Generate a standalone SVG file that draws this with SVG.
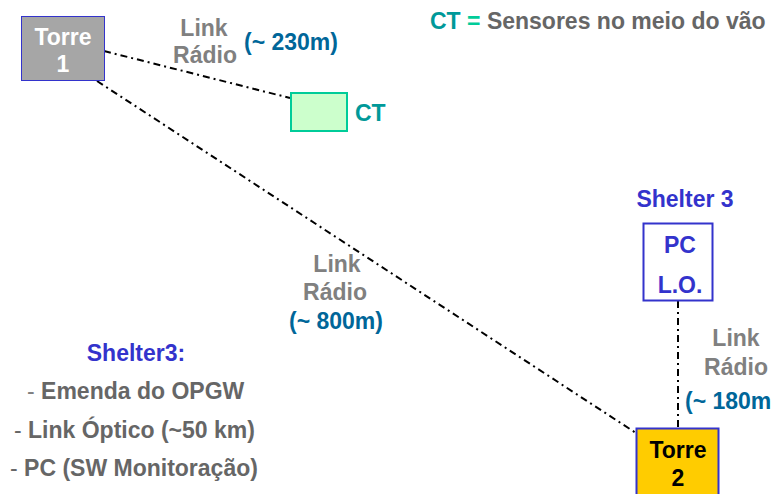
<svg xmlns="http://www.w3.org/2000/svg" width="771" height="494" viewBox="0 0 771 494">
<style>
text{font-family:"Liberation Sans",Arial,sans-serif;font-weight:bold;font-size:23px}
.c{text-anchor:middle}
.gray{fill:#808080}
.dk{fill:#666666}
.blue{fill:#006699}
.ind{fill:#3333CC}
.teal{fill:#009999}
.conn{stroke:#000;stroke-width:2;fill:none;stroke-dasharray:7 4 2 4}
</style>
<rect width="771" height="494" fill="#fff"/>
<g id="connectors">
<line class="conn" x1="104" y1="51" x2="290" y2="98"/>
<line class="conn" x1="97" y1="81" x2="636" y2="433"/>
<line class="conn" x1="678" y1="301" x2="678" y2="428"/>
</g>
<g id="torre1">
<rect x="21.5" y="16.5" width="83" height="64" fill="#A6A6A6" stroke="#3333CC" stroke-width="1"/>
<text class="c" x="63" y="45" fill="#fff">Torre</text>
<text class="c" x="63" y="72" fill="#fff">1</text>
</g>
<g id="ct">
<rect x="291" y="93" width="56" height="38" fill="#CCFFCC" stroke="#00CC99" stroke-width="2"/>
<text x="355" y="121" class="teal">CT</text>
</g>
<g id="shelter3">
<text class="c ind" x="685" y="207">Shelter 3</text>
<rect x="643.5" y="223.5" width="69" height="77" fill="#fff" stroke="#3333CC" stroke-width="2"/>
<text class="c ind" x="680" y="253">PC</text>
<text class="c ind" x="680" y="293">L.O.</text>
</g>
<g id="torre2">
<rect x="636.5" y="428.5" width="82" height="70" fill="#FFCC00" stroke="#3333CC" stroke-width="2"/>
<text class="c" x="678" y="458" fill="#000">Torre</text>
<text class="c" x="678" y="486" fill="#000">2</text>
</g>
<g id="labels">
<text class="c gray" x="204" y="36">Link</text>
<text class="c gray" x="205" y="63">Rádio</text>
<text class="blue" x="244" y="50">(~ 230m)</text>
<text x="430" y="29"><tspan class="teal">CT</tspan><tspan fill="#00CC99"> = </tspan><tspan class="dk">Sensores no meio do vão</tspan></text>
<text class="c gray" x="337" y="272">Link</text>
<text class="c gray" x="335" y="300">Rádio</text>
<text class="c blue" x="336" y="329">(~ 800m)</text>
<text class="c gray" x="736" y="346">Link</text>
<text class="c gray" x="736" y="375">Rádio</text>
<text class="blue" x="685" y="409">(~ 180m</text>
<text class="c ind" x="136" y="361">Shelter3:</text>
<text x="27" y="399" class="dk"><tspan font-weight="normal" fill="#808080">- </tspan>Emenda do OPGW</text>
<text x="14" y="438" class="dk"><tspan font-weight="normal">- </tspan>Link Óptico (~50 km)</text>
<text x="10" y="476" class="dk"><tspan font-weight="normal">- </tspan>PC (SW Monitoração)</text>
</g>
</svg>
